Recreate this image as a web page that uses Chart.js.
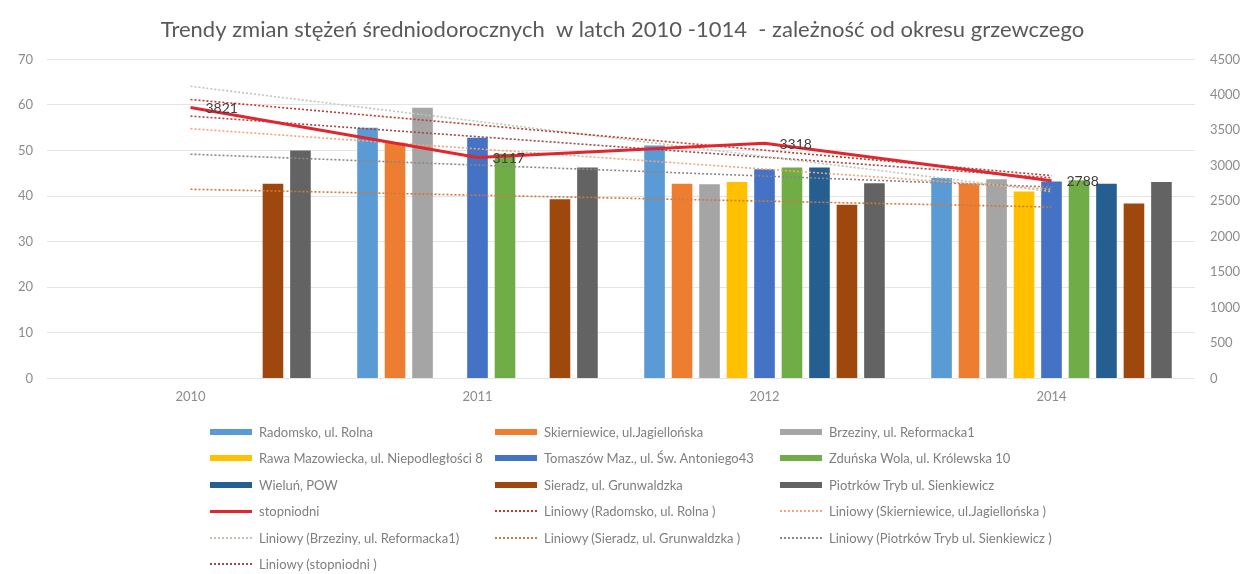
<!DOCTYPE html>
<html><head><meta charset="utf-8">
<script src="https://cdn.jsdelivr.net/npm/chart.js@4.4.1/dist/chart.umd.min.js"></script>
<style>
html,body{margin:0;padding:0;background:#fff;}
#wrap{position:relative;width:1245px;height:574px;}
#legend{position:absolute;left:0;top:0;width:1245px;height:574px;pointer-events:none;font-family:Lato,"Open Sans",sans-serif;font-size:13px;color:#7f7f7f;}
.li{position:absolute;display:flex;align-items:center;height:16px;white-space:nowrap;}
.sw{width:42px;height:6px;margin-right:7px;flex:none;}
</style></head><body>
<div id="wrap"><canvas id="c" width="1245" height="574"></canvas><div id="legend"></div></div>
<script>
const categories = ['2010','2011','2012','2014'];
const radomsko     = [null, 55.0, 51.1, 44.0];
const skierniewice = [null, 51.7, 42.7, 42.7];
const brzeziny     = [null, 59.4, 42.6, 43.7];
const rawa         = [null, null, 43.1, 41.0];
const tomaszow     = [null, 52.8, 45.9, 43.2];
const zdunska      = [null, 49.3, 46.3, 43.5];
const wielun       = [null, null, 46.3, 42.7];
const sieradz      = [42.7, 39.3, 38.1, 38.4];
const piotrkow     = [50.0, 46.3, 42.8, 43.1];
const stopniodni   = [3821, 3117, 3318, 2788];
// trendline end points (first and last category)
const trendRadomsko     = [61.2, null, null, 44.5];
const trendSkierniewice = [54.8, null, null, 41.5];
const trendBrzeziny     = [64.1, null, null, 41.0];
const trendSieradz      = [41.5, null, null, 37.6];
const trendPiotrkow     = [49.2, null, null, 42.0];
const trendStopniodni   = [3700, null, null, 2830];
const leftTicks = [0,10,20,30,40,50,60,70];
const rightTicks = [0,500,1000,1500,2000,2500,3000,3500,4000,4500];

const bar = (label, data, color) => ({type:'bar', label, data, backgroundColor:color, order:1, yAxisID:'y', categoryPercentage:0.862, barPercentage:0.75});
const trend = (label, data, color, axis) => ({type:'line', label, data, borderColor:color, borderWidth:1.6, borderDash:[2,2], pointRadius:0, spanGaps:true, fill:false, order:0, yAxisID:axis||'y', trend:true});

const datasets = [
  bar('Radomsko, ul. Rolna', radomsko, '#5B9BD5'),
  bar('Skierniewice, ul.Jagiellońska', skierniewice, '#ED7D31'),
  bar('Brzeziny, ul. Reformacka1', brzeziny, '#A5A5A5'),
  bar('Rawa Mazowiecka, ul. Niepodległości 8', rawa, '#FFC000'),
  bar('Tomaszów Maz., ul. Św. Antoniego43', tomaszow, '#4472C4'),
  bar('Zduńska Wola, ul. Królewska 10', zdunska, '#70AD47'),
  bar('Wieluń, POW', wielun, '#255E91'),
  bar('Sieradz, ul. Grunwaldzka', sieradz, '#9E480E'),
  bar('Piotrków Tryb ul. Sienkiewicz', piotrkow, '#636363'),
  {type:'line', label:'stopniodni', data:stopniodni, borderColor:'#E0262E', borderWidth:3, pointRadius:0, fill:false, order:0, yAxisID:'y1', tension:0},
  trend('Liniowy (Radomsko, ul. Rolna )', trendRadomsko, '#C0392B'),
  trend('Liniowy (Skierniewice, ul.Jagiellońska )', trendSkierniewice, '#F4A27A'),
  trend('Liniowy (Brzeziny, ul. Reformacka1)', trendBrzeziny, '#B9C9B4'),
  trend('Liniowy (Sieradz, ul. Grunwaldzka )', trendSieradz, '#D0783C'),
  trend('Liniowy (Piotrków Tryb ul. Sienkiewicz )', trendPiotrkow, '#8E8585'),
  trend('Liniowy (stopniodni )', trendStopniodni, '#A8464A', 'y1')
];

const labelPlugin = {
  id:'ptLabels',
  afterDatasetsDraw(chart){
    const ctx = chart.ctx;
    const idx = chart.data.datasets.findIndex(d => d.label === 'stopniodni');
    const meta = chart.getDatasetMeta(idx);
    ctx.save();
    ctx.font = '14px Lato, "Open Sans", sans-serif';
    ctx.fillStyle = '#404040';
    ctx.textBaseline = 'middle';
    ctx.textAlign = 'left';
    meta.data.forEach((pt, i) => {
      ctx.fillText(String(chart.data.datasets[idx].data[i]), pt.x + 15, pt.y + 1);
    });
    ctx.restore();
  }
};

Chart.defaults.font.family = 'Lato, "Open Sans", sans-serif';
const tickFont = {size:13};
const chart = new Chart(document.getElementById('c'), {
  type:'bar',
  data:{labels:categories, datasets},
  plugins:[labelPlugin],
  options:{
    responsive:false, animation:false, devicePixelRatio:1,
    layout:{padding:{left:0, right:0, top:0, bottom:166}},
    plugins:{
      legend:{display:false}, tooltip:{enabled:false},
      title:{display:true, text:'Trendy zmian stężeń średniodorocznych  w latch 2010 -1014  - zależność od okresu grzewczego',
        color:'#595959', font:{size:22, weight:'normal'}, padding:{top:17, bottom:16}}
    },
    scales:{
      x:{grid:{display:false}, border:{display:false}, ticks:{color:'#8c8c8c', font:tickFont, padding:3}},
      y:{position:'left', min:0, max:70, afterBuildTicks(a){a.ticks = leftTicks.map(v=>({value:v}));},
         afterFit(s){s.width = 47;},
         grid:{color:'#e4e4e4', drawTicks:false}, border:{display:false},
         ticks:{color:'#8c8c8c', font:tickFont, padding:14, callback:v=>String(v)}},
      y1:{position:'right', min:0, max:4500, afterBuildTicks(a){a.ticks = rightTicks.map(v=>({value:v}));},
         afterFit(s){s.width = 50;},
         grid:{drawOnChartArea:false, drawTicks:false}, border:{display:false},
         ticks:{color:'#8c8c8c', font:tickFont, padding:15, callback:v=>String(v)}}
    }
  }
});

// HTML legend built from the chart datasets, 3 columns
(function(){
  const lg = document.getElementById('legend');
  const cols = [210, 495, 780];
  chart.data.datasets.forEach((d, i) => {
    const r = Math.floor(i/3), c = i%3;
    const item = document.createElement('div');
    item.className = 'li';
    item.style.left = cols[c] + 'px';
    item.style.top = (424 + r*26.4) + 'px';
    const sw = document.createElement('span');
    sw.className = 'sw';
    if (d.type === 'bar') {
      sw.style.background = d.backgroundColor;
    } else if (d.trend) {
      sw.style.height = '0';
      sw.style.borderTop = '2px dotted ' + d.borderColor;
    } else {
      sw.style.height = '3px';
      sw.style.background = d.borderColor;
    }
    const t = document.createElement('span');
    t.textContent = d.label;
    item.appendChild(sw); item.appendChild(t);
    lg.appendChild(item);
  });
})();
</script>
</body></html>
